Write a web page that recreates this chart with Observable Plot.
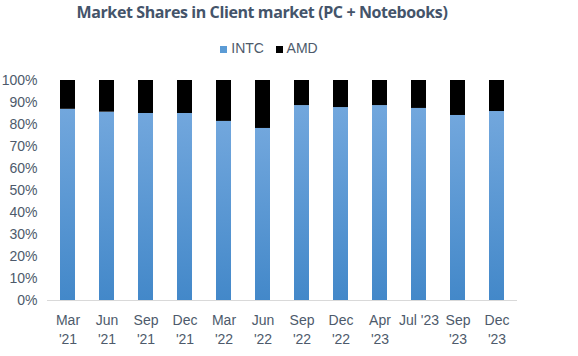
<!DOCTYPE html>
<html><head><meta charset="utf-8">
<script src="https://cdn.jsdelivr.net/npm/d3@7"></script>
<script src="https://cdn.jsdelivr.net/npm/@observablehq/plot@0.6"></script>
<style>
body{margin:0;background:#fff;font-family:"Liberation Sans",Arial,sans-serif;}
#wrap{position:relative;width:578px;height:356px;overflow:hidden;}
#title{position:absolute;top:1px;left:0;width:524px;text-align:center;font-weight:bold;font-size:16px;color:#44546a;font-family:"Open Sans",sans-serif;letter-spacing:-0.4px;}
#legend{position:absolute;top:40px;left:0;width:538px;text-align:center;font-size:14px;color:#4d5a6b;}
#legend span.sw{display:inline-block;width:7px;height:7px;margin-right:4px;vertical-align:0px;}
#chart{position:absolute;top:60px;left:0;}
</style></head>
<body><div id="wrap">
<div id="title">Market Shares in Client market (PC + Notebooks)</div>
<div id="legend"><span class="sw" style="background:#5b9bd5"></span>INTC&nbsp;&nbsp;&nbsp;<span class="sw" style="background:#000"></span>AMD</div>
<div id="chart"></div>
</div>
<script>
const quarters = ["Mar\n'21","Jun\n'21","Sep\n'21","Dec\n'21","Mar\n'22","Jun\n'22","Sep\n'22","Dec\n'22","Apr\n'23","Jul '23","Sep\n'23","Dec\n'23"];
const intc = [0.869,0.856,0.850,0.850,0.814,0.782,0.886,0.877,0.886,0.873,0.841,0.859];
const amd = intc.map(v => 1 - v);
const yTicks = [0,0.1,0.2,0.3,0.4,0.5,0.6,0.7,0.8,0.9,1];

const data = quarters.map((q,i) => ({q, intc: intc[i], amd: amd[i]}));

const chart = Plot.plot({
  width: 578, height: 296,
  marginLeft: 47, marginRight: 61, marginTop: 20, marginBottom: 56,
  style: {fontFamily: "Liberation Sans, Arial, sans-serif", fontSize: "14px", color: "#4d5a6b", background: "#fff"},
  x: {domain: quarters, paddingInner: 0.61, paddingOuter: 0.305, label: null},
  y: {domain: [0,1], label: null},
  marks: [
    () => { const s = d3.create("svg:defs");
      const g = s.append("linearGradient").attr("id","gIntc").attr("x1",0).attr("y1",0).attr("x2",0).attr("y2",1);
      g.append("stop").attr("offset","0%").attr("stop-color","#72a7dd");
      g.append("stop").attr("offset","100%").attr("stop-color","#4388c9");
      return s.node(); },
    Plot.barY(data, {x: "q", y1: 0, y2: "intc", fill: "url(#gIntc)"}),
    Plot.barY(data, {x: "q", y1: "intc", y2: d => d.intc + d.amd, fill: "#000"}),
    Plot.ruleY([0], {stroke: "#d9d9d9", strokeWidth: 1}),
    Plot.axisY({ticks: yTicks, tickFormat: d3.format(".0%"), tickSize: 0, tickPadding: 10, fill: "#4d5a6b", fontSize: 14}),
    Plot.axisX({tickSize: 0, tickPadding: 12, fill: "#4d5a6b", fontSize: 14, lineHeight: 1.3})
  ]
});
document.getElementById("chart").appendChild(chart);
</script>
</body></html>
